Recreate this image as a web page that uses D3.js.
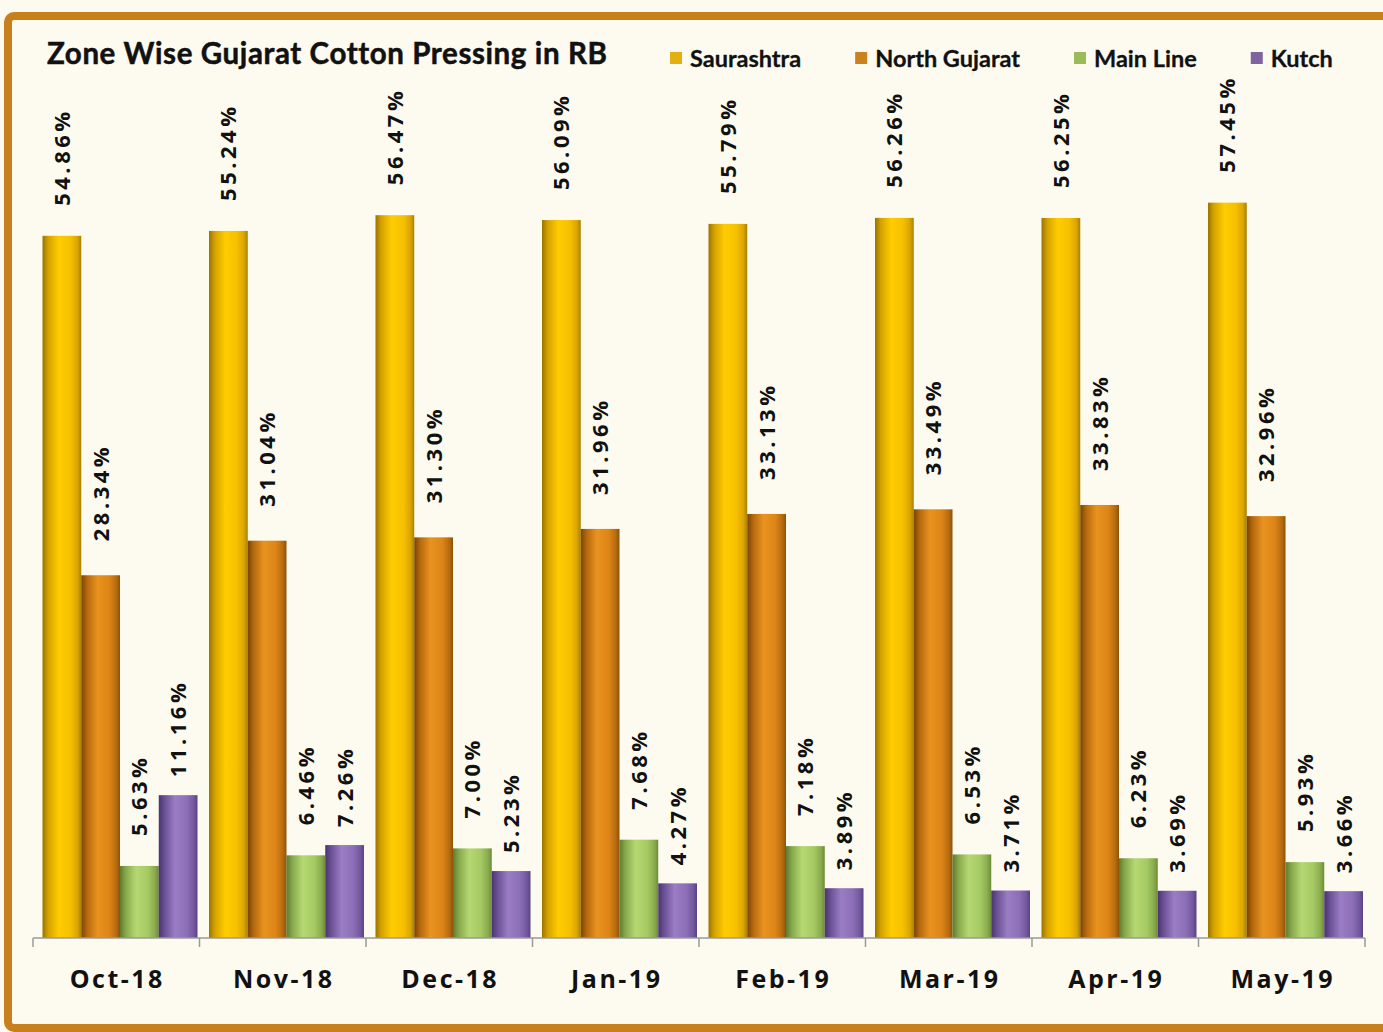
<!DOCTYPE html>
<html>
<head>
<meta charset="utf-8">
<script src="https://cdn.jsdelivr.net/npm/d3@7"></script>
<style>
  body { margin: 0; background: #fdfbf0; }
  svg { display: block; }
</style>
</head>
<body>
<svg width="1383" height="1032"></svg>
<script>
// chart data
var months = ["Oct-18", "Nov-18", "Dec-18", "Jan-19", "Feb-19", "Mar-19", "Apr-19", "May-19"];
var zones = ["Saurashtra", "North Gujarat", "Main Line", "Kutch"];
var saurashtra = [54.86, 55.24, 56.47, 56.09, 55.79, 56.26, 56.25, 57.45];
var northGujarat = [28.34, 31.04, 31.30, 31.96, 33.13, 33.49, 33.83, 32.96];
var mainLine = [5.63, 6.46, 7.00, 7.68, 7.18, 6.53, 6.23, 5.93];
var kutch = [11.16, 7.26, 5.23, 4.27, 3.89, 3.71, 3.69, 3.66];

var series = [saurashtra, northGujarat, mainLine, kutch];

// colours per zone: legend swatch and cylinder shading
var swatch = ["#e3b012", "#c9821d", "#9bbb59", "#8064a2"];
var shade = [
  ["#9a7400", "#d4a200", "#ffcc00", "#f6c000", "#dba500", "#a88000"],
  ["#7a4500", "#b5680e", "#e9931f", "#dd8517", "#b86c10", "#8a5408"],
  ["#5f7a30", "#86a84a", "#b6d873", "#a5c963", "#8aac4e", "#6e8a38"],
  ["#4a3470", "#6a5094", "#9a7dc5", "#8d6fb7", "#7359a0", "#5a4282"]
];
// how far above each zone's bar its value label starts
var labelGap = [30, 34, 30, 18];

var svg = d3.select("svg");

// page frame
svg.append("rect")
  .attr("x", 8).attr("y", 16)
  .attr("width", 1420).attr("height", 1012)
  .attr("rx", 6)
  .attr("fill", "#fdfbf0")
  .attr("stroke", "#c8801c")
  .attr("stroke-width", 8);

var defs = svg.append("defs");
shade.forEach(function(stops, i) {
  var grad = defs.append("linearGradient")
    .attr("id", "grad" + i)
    .attr("x1", "0%").attr("x2", "100%")
    .attr("y1", "0%").attr("y2", "0%");
  var offs = [0, 0.15, 0.42, 0.72, 0.9, 1];
  stops.forEach(function(c, j) {
    grad.append("stop").attr("offset", offs[j]).attr("stop-color", c);
  });
});

var x0 = d3.scaleBand().domain(months).range([33, 1365]).padding(0);
var x1 = d3.scaleBand().domain(d3.range(zones.length)).range([9.5, 164.5]).padding(0);
var y = d3.scaleLinear().domain([0, 70]).range([938, 42]);

var rows = months.map(function(m, i) {
  return { month: m, values: series.map(function(s, k) { return { k: k, v: s[i] }; }) };
});

var groups = svg.append("g").selectAll("g")
  .data(rows)
  .enter().append("g")
  .attr("transform", function(d) { return "translate(" + x0(d.month) + ",0)"; });

groups.selectAll("rect")
  .data(function(d) { return d.values; })
  .enter().append("rect")
  .attr("x", function(d) { return x1(d.k); })
  .attr("y", function(d) { return y(d.v); })
  .attr("width", x1.bandwidth())
  .attr("height", function(d) { return y(0) - y(d.v); })
  .attr("fill", function(d) { return "url(#grad" + d.k + ")"; });

groups.selectAll("text")
  .data(function(d) { return d.values; })
  .enter().append("text")
  .attr("transform", function(d) {
    return "translate(" + (x1(d.k) + x1.bandwidth() / 2) + "," + (y(d.v) - labelGap[d.k]) + ") rotate(-90)";
  })
  .attr("dy", "0.36em")
  .attr("font-family", "'Open Sans', sans-serif")
  .attr("font-weight", "bold")
  .attr("font-size", 22)
  .attr("letter-spacing", 3.5)
  .attr("fill", "#111")
  .text(function(d) { return d.v.toFixed(2) + "%"; });

// x axis
var axis = svg.append("g")
  .attr("transform", "translate(0," + y(0) + ")");
axis.append("line")
  .attr("x1", 33).attr("x2", 1365)
  .attr("stroke", "#9a9a9a").attr("stroke-width", 1.5);
axis.selectAll("line.tick")
  .data(months.concat(["end"]))
  .enter().append("line")
  .attr("class", "tick")
  .attr("x1", function(d) { return d === "end" ? x0.range()[1] : x0(d); })
  .attr("x2", function(d) { return d === "end" ? x0.range()[1] : x0(d); })
  .attr("y1", 0).attr("y2", 9)
  .attr("stroke", "#9a9a9a").attr("stroke-width", 1.5);
axis.selectAll("text")
  .data(months)
  .enter().append("text")
  .attr("x", function(d) { return x0(d) + x0.bandwidth() / 2 + 1; })
  .attr("y", 50)
  .attr("text-anchor", "middle")
  .attr("font-family", "'Open Sans', sans-serif")
  .attr("font-weight", "bold")
  .attr("font-size", 25)
  .attr("letter-spacing", 2.5)
  .attr("fill", "#111")
  .text(function(d) { return d; });

// title
svg.append("text")
  .attr("x", 47).attr("y", 64)
  .attr("font-family", "Lato, sans-serif")
  .attr("font-weight", "bold")
  .attr("font-size", 29.5)
  .attr("letter-spacing", 0.6)
  .attr("stroke", "#111").attr("stroke-width", 0.5)
  .attr("fill", "#111")
  .text("Zone Wise Gujarat Cotton Pressing in RB");

// legend
var lx = 670;
zones.forEach(function(z, i) {
  svg.append("rect")
    .attr("x", lx).attr("y", 52)
    .attr("width", 12).attr("height", 12)
    .attr("fill", swatch[i]);
  var t = svg.append("text")
    .attr("x", lx + 20).attr("y", 67)
    .attr("font-family", "Lato, sans-serif")
    .attr("font-weight", "bold")
    .attr("font-size", 23.5)
    .attr("stroke", "#111").attr("stroke-width", 0.3)
    .attr("fill", "#111")
    .text(z);
  lx += 20 + t.node().getComputedTextLength() + 54;
});
</script>
</body>
</html>
